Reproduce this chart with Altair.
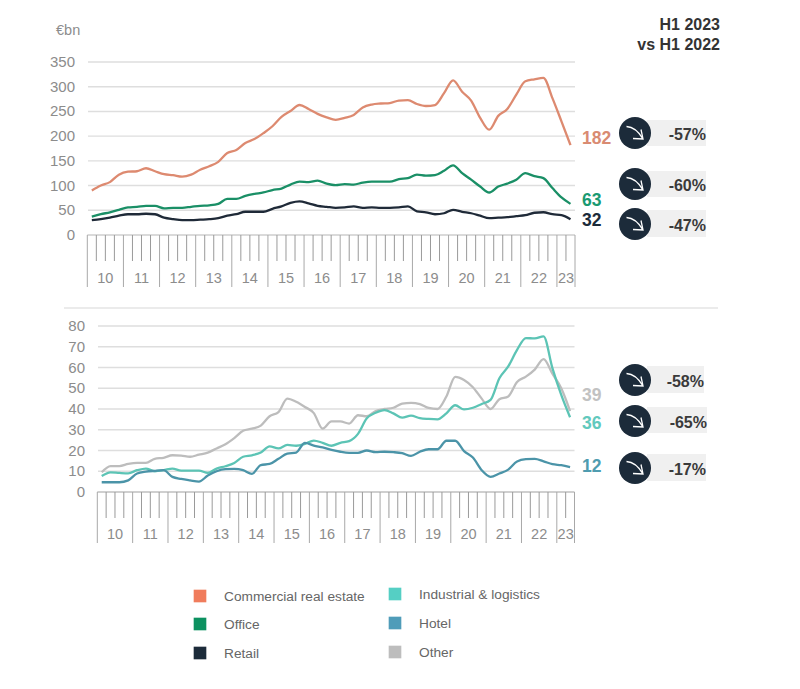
import altair as alt
import pandas as pd

commercial = [90,100,107,122,128,129,135,129,123,121,118,122,132,139,148,166,172,186,194,206,220,239,251,263,255,245,238,233,237,243,258,264,
              266,267,272,273,265,261,263,287,313,290,272,237,213,241,255,284,311,315,318,277,230,182]
office = [37,42,46,51,56,57,59,59,54,55,55,57,59,60,63,73,73,79,83,86,91,94,102,108,107,110,104,101,103,102,106,108,
          108,108,113,115,122,120,121,130,141,125,112,98,86,98,104,112,125,119,115,95,76,63]
retail = [30,32,35,39,42,42,43,42,35,32,30,30,31,32,34,39,42,47,47,47,53,58,65,68,64,59,57,55,56,58,55,56,
          55,55,56,58,48,46,42,44,51,47,44,39,34,35,36,38,40,45,46,42,40,32]
other = [9.5,12.5,12.5,13.5,14,14,16,16.5,17.7,17.5,17,18,19,21,23,26,29.5,30.5,32,36.5,38.5,45,43.5,41,38,30.5,34,34,33,37,36.5,39,
         40,40.6,42.6,43,42.4,40.5,40,46,55.5,54,50.5,45,40,44.7,46,53,55.6,59,64,57,50,39]
industrial = [7.7,9.5,9.2,9,10.5,11.3,10,10.5,11.3,10.3,10.3,10.3,9.2,11.3,12.4,14,17,17.7,19,22,21,22.7,22.3,23.2,24.8,23.7,22.3,23.7,24.5,28,35.5,38.2,
              39.5,37.9,35.8,36.8,35.6,35.2,35,37.9,41.8,39.8,40.6,42.4,44.4,54.8,60.5,68.5,74.2,74,75,59.7,46.8,36]
hotel = [4.7,4.7,4.7,5.6,8.9,9.8,10.2,10.5,7.3,6.3,5.6,5,7.9,10,11,11.1,10.5,8.7,13,13.5,16,18.5,19,23.7,22.4,21.5,20.3,19.4,18.9,18.9,20,19.2,
         19.4,19.2,18.7,17.4,19.4,20.6,20.6,24.7,24.7,19.7,16.6,10.5,7.3,8.9,10.8,14.7,15.8,16,14.8,13.4,12.9,12]

year_labels = ["10","11","12","13","14","15","16","17","18","19","20","21","22","23"]
ticks_top = [0,50,100,150,200,250,300,350]
ticks_bottom = [0,10,20,30,40,50,60,70,80]

series_top = [("Commercial real estate", commercial, "#dd8a70"), ("Office", office, "#1a8f66"), ("Retail", retail, "#1f2a38")]
series_bottom = [("Other", other, "#bdbdbd"), ("Industrial & logistics", industrial, "#5cc4b5"), ("Hotel", hotel, "#4b94a8")]

end_top = [("182", "#d98b72", 139), ("63", "#1a9a72", 201), ("32", "#1c2b3a", 221)]
end_bottom = [("39", "#c2c2c2", 396), ("36", "#62c9bd", 424), ("12", "#4f9cb0", 467)]

callouts = [("-57%", 133, 120, 146, 135, 706), ("-60%", 184, 171, 197, 186, 706), ("-47%", 224, 210, 237, 226, 706),
            ("-58%", 380, 366, 393, 382, 704), ("-65%", 421, 407, 433, 423, 707), ("-17%", 468, 454, 481, 470, 706)]

legend = [("Commercial real estate", "#f07c5c", 200, 596, 224, 597), ("Office", "#0c9160", 200, 624, 224, 625), ("Retail", "#1c2b3a", 200, 653, 224, 654),
          ("Industrial & logistics", "#55cfc4", 395, 594, 419, 595), ("Hotel", "#4f9cb9", 395, 623, 419, 624), ("Other", "#bdbdbd", 395, 652, 419, 653)]

FONT = "Liberation Sans"
GREY = "#8c8c8c"
ARROW = "M-0.85,-0.65 Q0.1,-0.6 0.8,0.6 M-0.2,0.55 L0.8,0.6 L0.6,-0.35"


def px(v):
    return v - 8


def panel(series, ticks, ymax, x0, x1, y0, y1, minor_end, major_end, label_y, tick_right, grid_x0, axis_colour):
    xs = alt.Scale(domain=[0, 54], range=[px(x0), px(x1)])
    ys = alt.Scale(domain=[0, ymax], range=[px(y0), px(y1)])
    X = lambda f: alt.X(f, type="quantitative", scale=xs, axis=None)
    Y = lambda f: alt.Y(f, type="quantitative", scale=ys, axis=None)
    out = []
    grid = pd.DataFrame({"v": [t for t in ticks if t > 0]})
    out.append(alt.Chart(grid).mark_rule(color="#dedede", strokeWidth=1.4).encode(
        y=Y("v"), x=alt.value(px(grid_x0)), x2=alt.value(px(x1))))
    out.append(alt.Chart(pd.DataFrame({"v": [0]})).mark_rule(color=axis_colour, strokeWidth=1.2).encode(
        y=Y("v"), x=alt.value(px(x0)), x2=alt.value(px(x1))))
    lab = pd.DataFrame({"v": ticks, "t": [str(t) for t in ticks]})
    out.append(alt.Chart(lab).mark_text(font=FONT, fontSize=15, color=GREY, align="right", baseline="middle").encode(
        y=Y("v"), x=alt.value(px(tick_right)), text="t:N"))
    minor = pd.DataFrame({"q": [q for q in range(0, 55) if q % 4 != 0 and q != 54], "b": 0})
    major = pd.DataFrame({"q": [q for q in range(0, 55) if q % 4 == 0] + [54], "b": 0})
    out.append(alt.Chart(minor).mark_rule(color="#9a9a9a", strokeWidth=1).encode(
        x=X("q"), y=Y("b"), y2=alt.value(px(minor_end))))
    out.append(alt.Chart(major).mark_rule(color="#a8a8a8", strokeWidth=1).encode(
        x=X("q"), y=Y("b"), y2=alt.value(px(major_end))))
    centres = [i * 4 + 2 for i in range(13)] + [53]
    years = pd.DataFrame({"q": centres, "t": year_labels})
    out.append(alt.Chart(years).mark_text(font=FONT, fontSize=14.5, color=GREY, baseline="middle").encode(
        x=X("q"), y=alt.value(px(label_y)), text="t:N"))
    for name, vals, col in series:
        d = pd.DataFrame({"q": [i + 0.5 for i in range(len(vals))], "v": vals})
        out.append(alt.Chart(d).mark_line(color=col, strokeWidth=2.3, interpolate="monotone").encode(
            x=X("q"), y=Y("v")))
    return out


def label(text, x, y, **kw):
    return alt.Chart(pd.DataFrame({"t": [text]})).mark_text(baseline="middle", **kw).encode(
        x=alt.value(px(x)), y=alt.value(px(y)), text="t:N")


layers = []
layers += panel(series_top, ticks_top, 350, 87.3, 575, 235, 62, 261, 287, 279, 75, 88, "#b5b5b5")
layers += panel(series_bottom, ticks_bottom, 80, 97.3, 574.5, 492, 326, 518, 543, 535, 85, 98, "#a0a0a0")

layers.append(alt.Chart(pd.DataFrame({"k": [0]})).mark_rule(color="#d8d8d8", strokeWidth=1.2).encode(
    x=alt.value(px(64)), x2=alt.value(px(718)), y=alt.value(px(308))))

layers.append(label("€bn", 56, 31, font=FONT, fontSize=14.5, color=GREY, align="left"))
layers.append(label("H1 2023", 720, 25, font=FONT, fontSize=16, fontWeight="bold", color="#333333", align="right"))
layers.append(label("vs H1 2022", 720, 44.5, font=FONT, fontSize=16, fontWeight="bold", color="#333333", align="right"))

for t, col, y in end_top + end_bottom:
    layers.append(label(t, 582, y, font=FONT, fontSize=17.5, fontWeight="bold", color=col, align="left"))

for t, cy, r0, r1, ty, tr in callouts:
    row = pd.DataFrame({"t": [t]})
    layers.append(alt.Chart(row).mark_rect(color="#f0f0f0").encode(
        x=alt.value(px(647)), x2=alt.value(px(tr)), y=alt.value(px(r0)), y2=alt.value(px(r1))))
    layers.append(alt.Chart(row).mark_circle(color="#1c2b3a", opacity=1, size=1024).encode(
        x=alt.value(px(635)), y=alt.value(px(cy))))
    layers.append(alt.Chart(row).mark_point(shape=ARROW, size=400, filled=False, stroke="white", strokeWidth=1.3, opacity=1).encode(
        x=alt.value(px(635)), y=alt.value(px(cy))))
    layers.append(label(t, tr, ty, font=FONT, fontSize=16, fontWeight="bold", color="#3a3a3a", align="right"))

for t, col, sx, sy, tx, ty in legend:
    layers.append(alt.Chart(pd.DataFrame({"t": [t]})).mark_square(color=col, opacity=1, size=160).encode(
        x=alt.value(px(sx)), y=alt.value(px(sy))))
    layers.append(label(t, tx, ty, font=FONT, fontSize=13.7, color="#666666", align="left"))

chart = alt.layer(*layers).resolve_scale(x="independent", y="independent").properties(
    width=784, height=673, padding=0, autosize=alt.AutoSizeParams(type="none")
).configure_view(stroke=None)

chart.save("out.html", embed_options={"renderer": "svg", "actions": False})
